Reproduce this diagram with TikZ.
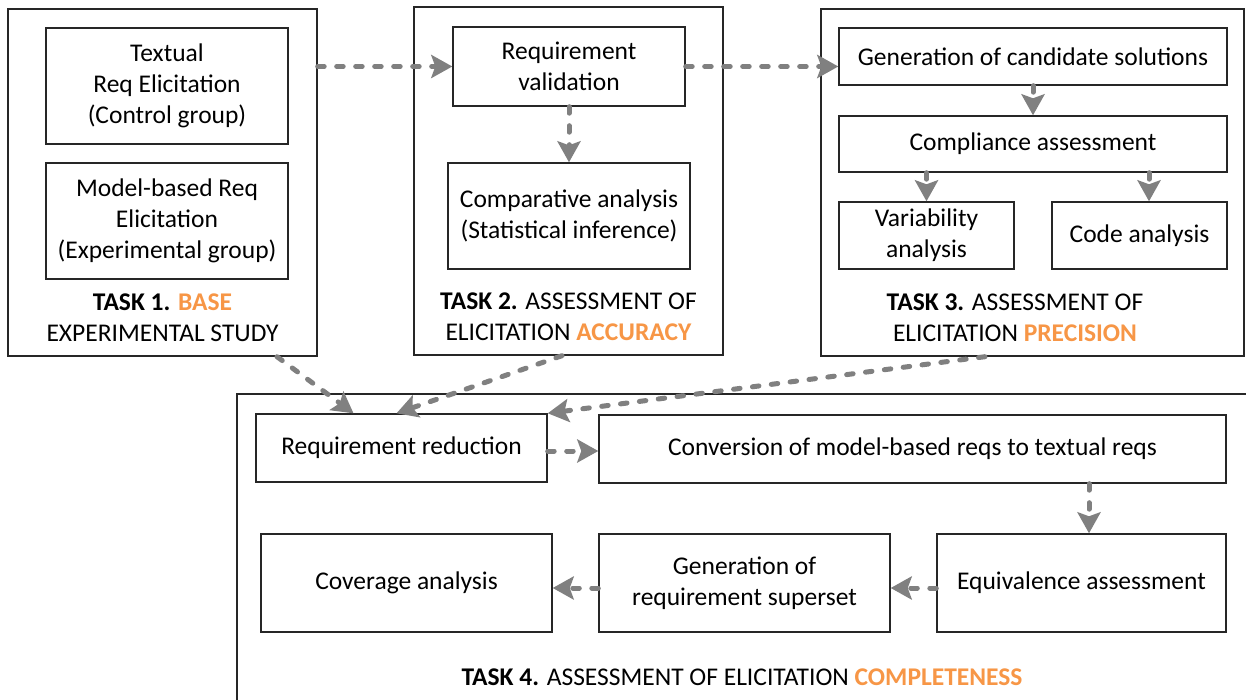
\documentclass[tikz,border=0pt]{standalone}
\usepackage{fontspec}
\setmainfont{Carlito}
\usetikzlibrary{arrows.meta}
\definecolor{accent}{HTML}{F79646}
\definecolor{arrowgray}{HTML}{808080}
\definecolor{edge}{HTML}{262626}
\begin{document}
\begin{tikzpicture}[x=1pt,y=-1pt,
  box/.style={draw=edge, line width=1.4pt, rectangle, inner sep=0pt, align=center, font=\fontsize{25.5}{31}\selectfont},
  frame/.style={draw=edge, line width=1.4pt, rectangle, inner sep=0pt},
  lbl/.style={align=center, font=\fontsize{25.5}{31}\selectfont, inner sep=0pt},
  flow/.style={draw=arrowgray, line width=5pt, line cap=round, dash pattern=on 6.5pt off 12.5pt, -{Stealth[length=21pt,width=23pt,inset=4pt]}}]
\useasboundingbox (0,0) rectangle (1246,700);
\clip (0,0) rectangle (1246,700);
\fill[white] (0,0) rectangle (1246,700);
% Task 1
\node[frame, minimum width=309pt, minimum height=347pt] (t1) at (162.5,182.5) {};
\node[box, minimum width=242pt, minimum height=116pt] (tx) at (167,86) {Textual\\Req Elicitation\\(Control group)};
\node[box, minimum width=242pt, minimum height=116pt] (mb) at (167,221) {Model-based Req\\Elicitation\\(Experimental group)};
\node[lbl] (l1) at (162.5,318) {\textbf{TASK 1.} \textcolor{accent}{\textbf{BASE}}\\EXPERIMENTAL STUDY};
% Task 2
\node[frame, minimum width=309pt, minimum height=348pt] (t2) at (568.5,181) {};
\node[box, minimum width=232pt, minimum height=79pt] (rv) at (569,66.5) {Requirement\\validation};
\node[box, minimum width=242pt, minimum height=106pt] (ca) at (569,216) {Comparative analysis\\(Statistical inference)};
\node[lbl] (l2) at (568.5,317) {\textbf{TASK 2.} ASSESSMENT OF\\ELICITATION \textcolor{accent}{\textbf{ACCURACY}}};
% Task 3
\node[frame, minimum width=423pt, minimum height=347pt] (t3) at (1032.5,182.5) {};
\node[box, minimum width=388pt, minimum height=57pt] (gc) at (1033,56.5) {Generation of candidate solutions};
\node[box, minimum width=388pt, minimum height=56pt] (cmp) at (1033,144) {Compliance assessment};
\node[box, minimum width=175pt, minimum height=67pt] (var) at (926.5,235.5) {Variability\\analysis};
\node[box, minimum width=175pt, minimum height=67pt] (code) at (1139.5,235.5) {Code analysis};
\node[lbl] (l3) at (1015,318) {\textbf{TASK 3.} ASSESSMENT OF\\ELICITATION \textcolor{accent}{\textbf{PRECISION}}};
% Task 4
\draw[draw=edge, line width=1.4pt] (237,720) -- (237,394) -- (1260,394);
\node[box, minimum width=291pt, minimum height=68pt] (rr) at (401.5,448) {Requirement reduction};
\node[box, minimum width=627pt, minimum height=68pt] (cv) at (912.5,449) {Conversion of model-based reqs to textual reqs};
\node[box, minimum width=291pt, minimum height=98pt] (cov) at (406.5,583) {Coverage analysis};
\node[box, minimum width=291pt, minimum height=98pt] (gs) at (744.5,583) {Generation of\\requirement superset};
\node[box, minimum width=289pt, minimum height=98pt] (eq) at (1081.5,583) {Equivalence assessment};
\node[lbl] (l4) at (742,677) {\textbf{TASK 4.} ASSESSMENT OF ELICITATION \textcolor{accent}{\textbf{COMPLETENESS}}};
% connectors
\coordinate (codetop) at ([xshift=9.5pt]code.north);
\coordinate (a7s) at ([xshift=114.5pt]t1.south);
\coordinate (a7e) at ([xshift=-48pt]rr.north);
\coordinate (a8s) at ([xshift=-6.5pt]t2.south);
\coordinate (a8e) at ([xshift=-5pt]rr.north);
\coordinate (a9s) at ([xshift=-47.5pt]t3.south);
\coordinate (rre) at ([yshift=-3pt]rr.east);
\coordinate (eqtop) at ([xshift=7.5pt]eq.north);
\coordinate (eqw) at ([yshift=-5pt]eq.west);
\coordinate (gsw) at ([yshift=-5pt]gs.west);
\draw[flow] (t1.east |- rv.west) -- (rv.west);
\draw[flow] (rv.east) -- (rv.east -| gc.west);
\draw[flow] (rv.south) -- (ca.north);
\draw[flow] (gc.south) -- (cmp.north);
\draw[flow] (cmp.south -| var.north) -- (var.north);
\draw[flow] (codetop |- cmp.south) -- (codetop);
\draw[flow] (a7s) -- (a7e);
\draw[flow] (a8s) -- (a8e);
\draw[flow] (a9s) -- (rr.north east);
\draw[flow] (rre) -- (rre -| cv.west);
\draw[flow] (eqtop |- cv.south) -- (eqtop);
\draw[flow] (eqw) -- (eqw -| gs.east);
\draw[flow] (gsw) -- (gsw -| cov.east);
\end{tikzpicture}
\end{document}
